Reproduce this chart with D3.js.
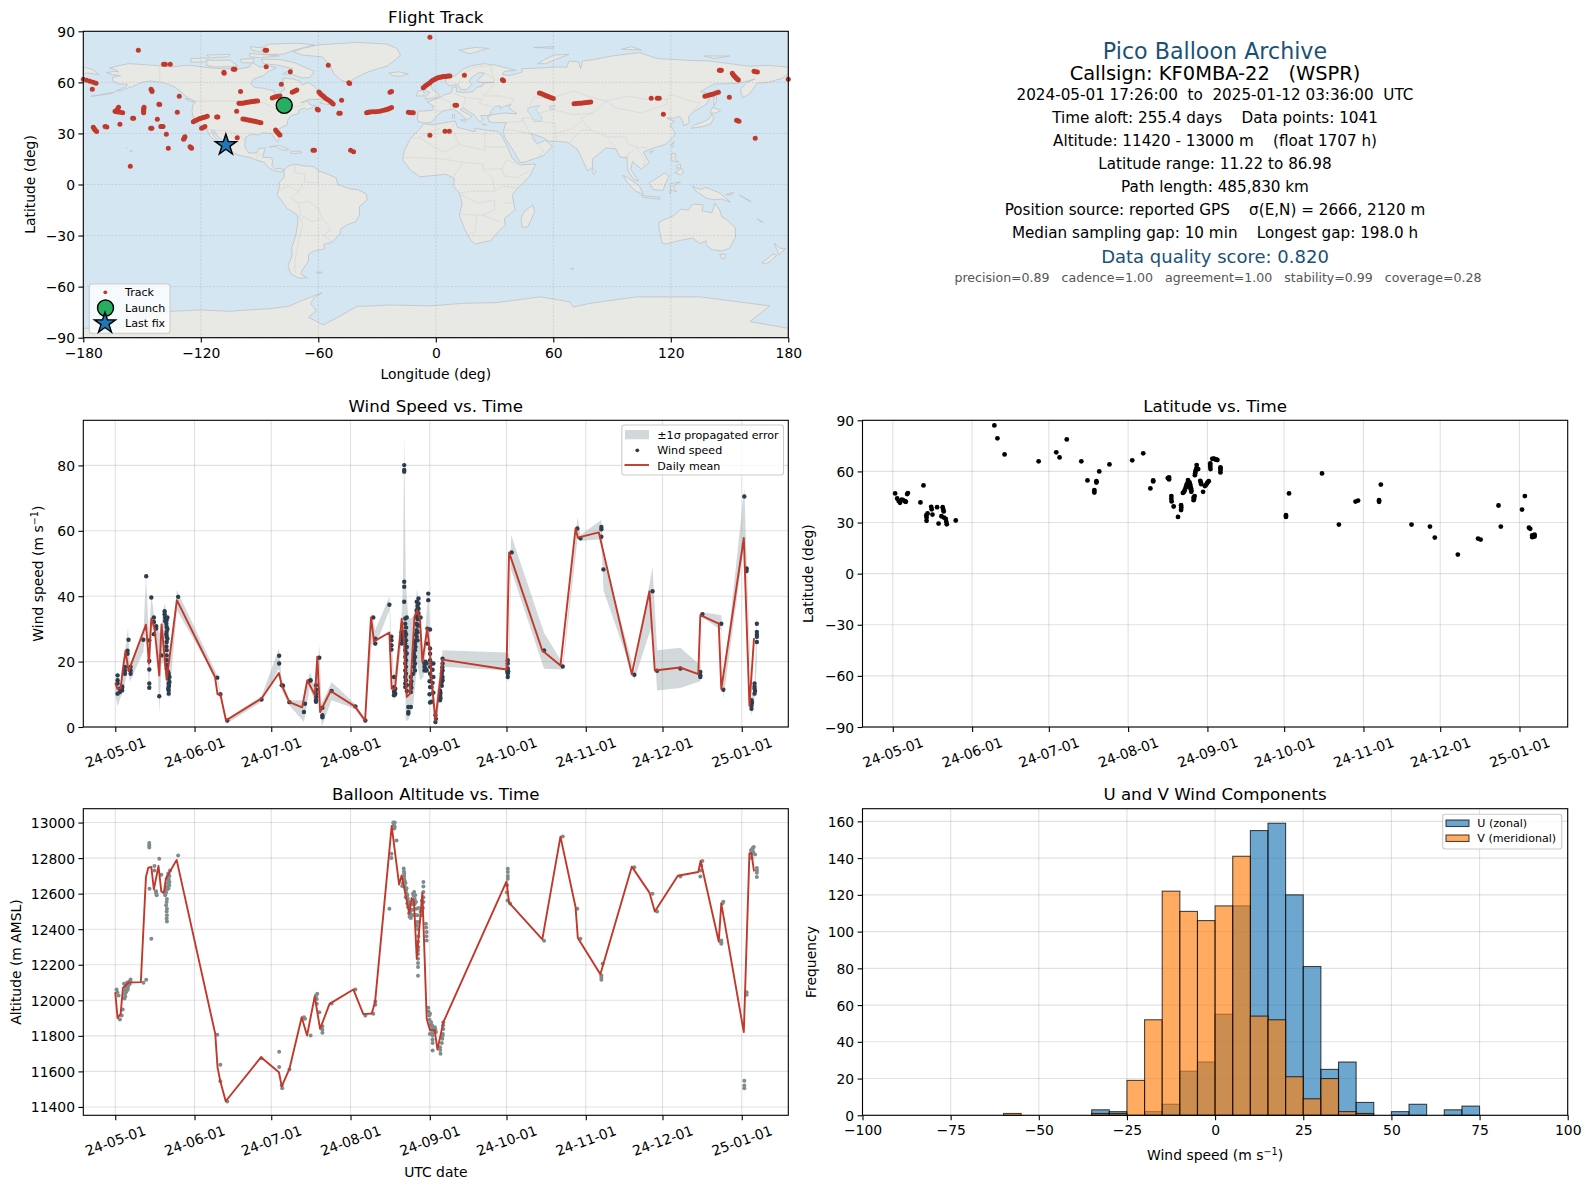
<!DOCTYPE html>
<html>
<head>
<meta charset="utf-8">
<script src="https://cdn.jsdelivr.net/npm/d3@7"></script>
<style>
  body { margin: 0; background: #fff; }
  text { font-family: "DejaVu Sans", sans-serif; fill: #000; white-space: pre; }
</style>
</head>
<body>
<div id="chart"></div>
<script>
// ---- values ----

// track fixes [lon, lat]
var trackFixes = [
  [-180,61.8],[-178.3,61.2],[-176.6,60.6],[-174.9,60],[-173.5,59.5],[-175.4,55.9],[-151.9,78.8],[-139,70.6],[-138.1,70.6],[-135.6,70.6],
  [-108.2,65.9],[-108.1,65.4],[-103.4,67.7],[-102.6,67.7],[-87.1,78.8],[-86.4,78.8],[-86.6,69.2],[-74.3,66.3],[-54.9,70],[-44.4,59.8],[-44,59.4],[-78.9,58.9],
  [-145.4,55.9],[-145,55.2],[-144.9,54.6],[-99.7,54.6],[-131,51.8],[-141.4,47.1],[-141,47],[-162,45.4],[-162.6,44.2],[-163.8,43],[-163,42.7],[-162.1,42.6],[-161,42.4],[-159.9,42.2],
  [-149,45.4],[-149.1,44.6],[-149.2,43.8],[-149.2,43],[-149.2,42.2],[-132,42.4],[-101.7,43],[-154.8,38.9],[-154.3,38.9],[-142.2,38.3],[-161.3,35.4],
  [-174.9,33.6],[-174.4,32.8],[-174,32],[-173.2,31.1],[-168.9,34],[-168,33.8],[-145.6,33],[-145,33],[-140.4,34],[-140,34],[-139.3,34],[-137.6,29.5],
  [-128.1,28.1],[-128.4,27.3],[-128.8,26.6],[-136.6,21.3],[-125.5,22.2],[-125,21.8],[-124.7,21.3],[-156,10.7],
  [-123.8,36.9],[-123,37.4],[-122.1,37.9],[-121.2,38.3],[-120.4,38.7],[-119.5,39],[-118.7,39.3],[-117.7,39.7],[-116.7,40.1],[-111.9,39.7],[-111.3,39.7],
  [-119.6,33],[-118.8,33.5],[-117.9,34],
  [-100.5,47.7],[-99.7,47.7],[-98.8,47.7],[-97.9,47.9],[-97,48.1],[-96.1,48.3],[-95.3,48.5],[-94.4,48.6],[-93.6,48.7],[-92.8,48.9],[-92,49],[-91,49.1],
  [-98.5,38.5],[-97.5,38.3],[-96.6,38.1],[-95.8,37.9],[-94.9,37.7],[-94,37.5],[-93.2,37.3],[-92.3,37.1],[-91.5,36.9],[-90.4,36.6],[-89.3,36.3],
  [-83.5,50.8],[-82.5,51.2],[-81.6,51.6],[-80.6,51.8],[-79.6,52],[-73.3,54.2],[-72.5,54.7],[-71.7,55.1],[-71,55.5],
  [-59.7,54.4],[-59,53.5],[-58.3,52.6],[-57.4,51.8],[-56.6,51],[-55.8,50.3],[-54.9,49.7],[-54,48.9],[-53.2,48.1],[-52.4,47.3],[-60.5,44.2],[-60,43.8],[-48.1,49.5],[-49.5,41.8],[-48.8,41.8],
  [-22.6,54.6],[-23.4,54.2],[-35.3,42.2],[-34.4,42.4],[-33.6,42.6],[-32.4,42.7],[-31.1,42.8],[-29.8,42.9],[-28.5,43],[-27.2,43.4],[-25.9,43.8],[-25.1,44.1],[-24.3,44.4],[-23.4,44.8],[-22.6,45.2],
  [-14,42.4],[-13.2,42.3],[-12.3,42.2],[-11.5,42.2],[-81.8,32],[-81.3,31.2],[-80.8,30.5],[-80.2,29.8],[-79.6,29.1],[-101.4,27.5],[-62.7,20.1],[-62,20.1],[-43.5,20.1],[-42,19.3],
  [-6.4,56.9],[-5.5,57.7],[-4.7,58.5],[-3.8,59.2],[-3,59.8],[-2.2,60.6],[-1.3,61.4],[-.4,61.9],[.4,62.4],[1.2,62.7],[2.1,63],[3,63.2],[3.8,63.4],[4.7,63.5],[5.5,63.6],[6.4,63.7],[7.2,63.8],
  [14.6,64.2],[34,61.5],[34.6,61],[9.8,46.5],[10.6,46.5],[4.7,31.3],[6.9,31.3],[-3,29],[-3,86.5],
  [52.9,53.8],[53.8,53.4],[54.6,53],[55.5,52.6],[56.3,52.2],[57.1,51.8],[57.9,51.4],[59,50.9],[60,50.5],
  [70.6,47.5],[71.7,47.6],[72.8,47.7],[73.9,47.8],[75,47.9],[76,48],[77,48.1],[78,48.3],[79.1,48.5],
  [110,50.6],[113.1,50.6],[114.1,50.6],[116.2,41.2],
  [137.4,51.8],[138.5,52.2],[139.7,52.6],[140.7,52.9],[141.7,53.2],[143,53.7],[144.3,54.2],[149.9,51.2],[144.8,67.1],[145.3,67.1],[145.8,67.1],
  [151.4,65.3],[151.9,64.5],[152.4,63.8],[152.9,63.2],[153.3,62.6],[153.9,62],[154.5,61.4],[162.5,66.5],[163.3,66.3],[164.2,66.1],[180,61.8],
  [153.6,37.7],[154.2,37.4],[154.8,37.1],[163.1,27.1],[-107,22.4]
];
var launchFix = [-77.4, 46.5];
var lastFix = [-107.2, 23.2];

// wind speed samples [days since 24-05-01, m/s]
var windObs = [
  [.9,15.8],[.9,14.3],[.9,13.3],[.9,10.2],[1.8,10.7],[1.8,11.7],[2.7,12.4],[2.7,11.2],[2.7,12],[3.8,18.4],[3.8,17.3],[3.8,16.3],
  [4.8,23.3],[4.8,22.4],[5.2,26.7],[6,18.4],[6,17.3],[6,16.3],[11,26.7],[12.1,46.1],[13.3,26.5],[13.3,20.2],[13.3,17.6],[13.3,13.3],[13.3,12],
  [14.1,39.6],[15.1,33.5],[15.1,32.1],[15.1,28.4],[16,30.8],[16,30.1],[17.2,9.4],[18,21.9],[19.3,35.4],[19.3,34.5],[19.5,33.5],[19.5,32.4],
  [20.1,32.7],[20.1,30.6],[20.1,29.1],[20.1,27.6],[20.1,26],[20.1,23.5],[20.1,21.9],[20.1,20.4],[20.1,17.9],[20,31.6],[20,28.4],[20,24.6],[20,19],
  [20.4,33.5],[20.4,30],[20.4,27],[20.6,17],[20.6,15.6],[20.9,16.3],[20.9,14.8],[20.9,13.3],[20.9,12.2],[20.9,11.2],[20.9,10.2],[21.2,15.3],[21.2,13.8],[21,12.7],[20.7,11.7],[24.6,39.8],[39.9,15.1],[41.1,10],[43.8,2],[57.2,8.4],
  [64.1,21.8],[64.1,19.4],[65.1,12.8],[65.6,12.6],[68.1,7.6],[73.8,4.6],[74.2,7.1],[76.4,14.3],[76.1,14.1],[78.5,12.8],[78.5,10.2],[78.5,8.2],[78.5,7.7],[78.6,9.2],[78.7,11.4],[79.8,21.2],
  [81,5.9],[81,3.6],[81,3],[84.6,11],[93.9,6.3],[97.8,2],[100.9,33.5],[101.7,27],[101.7,25.5],[107.2,37.4],[108,27.6],[108,26.5],[108,25],[108,23.7],
  [109,15.3],[109,12.2],[109,10.7],[109,9.7],[109.5,11.7],[109.5,10.2],[109.3,9.9],[109.2,11],[112,29],[112,27.6],[112,25.5],[112.2,28.3],[112.2,26.5],
  [113,44.4],[113,42.9],[113,38.3],[113,80.1],[113,78.6],[113,78.1],
  [113.4,33.2],[113.4,31.6],[113.4,29.1],[113.4,27.6],[113.4,25.5],[113.4,23.5],[113.4,21.4],[113.4,19.4],[113.4,17.3],[113.4,15.3],[113.4,13.3],[113.4,12.2],
  [113.7,30.4],[113.7,28.4],[113.7,26.5],[113.7,24.5],[113.7,22.4],[113.7,20.4],[113.7,18.4],[113.7,16.3],[113.7,14.3],
  [114,22.5],[114,24.5],[114,33.5],[114,12.8],[114,11],[114.6,6.1],[114.6,4.6],[114.6,4.1],[115.6,6.1],[115.6,10.7],[115.6,15.3],[115.6,13],[115.8,14],[115.8,12],
  [116.5,16.3],[116.8,18.4],[116.8,20.4],[116.8,22.4],[117.2,17.3],[117.2,19.4],[117.2,21.4],[117.2,23.5],[117.2,25.5],[117.4,24.5],[117.4,26.5],[117.4,28.4],
  [117.9,38.3],[117.9,35.7],[117.9,33.7],[117.9,31.6],[117.9,29.6],[117.9,27.6],[118.2,37],[118.2,33],[118.2,29],[118.2,31],[118.2,35],[118.2,26.5],
  [118.6,39.3],[118.6,37.8],[118.6,36.2],[118.6,34.7],[118.6,33],[118.6,31],[119.4,33.5],[120.9,19.4],[120.9,18.4],[120.9,17.3],[121.3,20],[121.3,18],[121.8,19.4],[121.8,17.3],
  [122.4,40.8],[122.4,38.8],[122.1,30.1],[122.1,25.5],[123.1,29.8],[123.1,24],[123.1,22.4],[123.1,20.4],[123.1,18.4],[123.1,16.3],[123.1,12.2],[123.1,7.5],[122.9,14],[122.9,10],
  [123.7,19.4],[123.7,15.3],[123.7,12.2],[123.7,7.7],[124.4,19.4],[124.4,15.3],[124.1,17.5],[124.1,13.5],[124.4,10.5],[125.2,3.6],[125.2,1.5],[125.4,2.5],
  [127,11.2],[127,9.7],[127,8.2],[127.2,10.4],[127.2,8.9],[128,20.9],[128,19.4],[128,17.3],[128,15.3],[128,14.3],[127.7,16.4],[127.7,13.8],[127.9,18.3],[127.7,12.6],
  [153.5,20.4],[153.5,19.4],[153.5,17.9],[153.5,16.3],[153.5,15.3],[153.3,16.9],[153.7,17],[155,53.4],[167.7,23.4],[175,18.5],[180.7,60.7],[181.9,57.7],
  [190.1,60.5],[190.1,58.2],[190.1,61.2],[190.9,48.2],[203,16],[210.1,41.5],[211.9,17.2],[221,17.9],[228.8,16.8],[228.8,15.8],[228.8,15.3],[229.6,34.5],
  [237,31.6],[237.8,11.4],[246,70.5],[246.9,48.5],[246.9,47.7],[248.8,8.2],[248.8,6.6],[248.8,5.6],[249,7.4],[250,13.3],[250,11.7],[250,10.2],[250,12.4],[250.2,11],
  [250.9,31.6],[250.9,29.1],[250.9,27.6],[250.9,26],[250.9,28.3]
];

// daily mean wind [day, m/s]
var windDaily = [
  [0,13.5],[.9,11.6],[2.1,11.8],[3,17.9],[4,23.3],[5.2,17.1],[12,31.3],[13.2,19.4],[14.1,33.1],[15.4,30.1],[17.2,15.8],[18.1,31.4],[20.1,14.5],[24.1,38.8],
  [39,15.3],[40,10],[41.1,10],[43.3,2],[57.2,8.7],[64,16.5],[65.1,12.8],[68.1,7.6],[73.1,6],[75.1,14.3],[78.1,9.7],[79,21.5],[80.1,4.6],[84.2,11],[93.7,6.3],[97.7,2],
  [100,33.5],[101.2,26.2],[107.2,28.9],[108.1,11.7],[109.4,11.7],[112,33.1],[112.9,26.5],[114,9.2],[115.3,10.2],[117,33.7],[118.1,35.7],[119.2,32.7],[120.1,19.9],[122,30.1],[123.1,22.4],
  [123.7,14.3],[125.2,2],[128,20.6],[153,17.6],[154,53.4],[167,23.4],[174.1,18.8],[180,60.7],[180.9,57.9],[189.1,59.5],[202,16.1],[208.9,41.5],[211,17.3],[220.9,18.2],[228,16.2],[228.8,34.2],
  [236,31.6],[237,11.6],[245.8,57.8],[248,6.5],[249.8,27.2]
];

// propagated error envelope [day, upper, lower]
var windBand = [
  [0,13.8,10.2],[.9,16.8,6.3],[2.1,13.3,9.2],[3.1,16.3,10.7],[4,24,14.3],[5,30.6,18.4],[5.7,19.4,13.8],[11,28.1,23],[12,46.4,31.6],[13.2,27.6,10.7],[14.1,40.3,31.6],[15.1,34.7,27.6],
  [16.2,31.6,27.6],[17.2,28.6,4.1],[18.1,31.6,19.4],[19.2,37.8,19.4],[20.3,34.7,10.2],[21.1,18.4,8.7],[24.1,41.8,35.7],[39.9,15.8,14.3],[41.1,10.7,9.2],[43.5,2.6,1],[57.2,9.4,7.7],
  [64,24,17.9],[65.1,14.3,11.2],[68.1,8.2,6.6],[73.8,8.2,1.5],[76.1,16.8,12.2],[78.1,12.2,7.1],[79.8,25,16.3],[80.7,7.1,0],[84.6,13.8,8.2],[93.7,7.1,5.6],[97.7,2.6,1],
  [100.3,35.2,25.5],[101.6,29.6,24.5],[107.2,39.8,35.7],[108.1,26.5,22.4],[109,15.3,7.7],[112,33.7,25.5],[112.5,45,25],[113,89.6,30],[113.6,45,2],[114.6,33,2],[116.6,33.7,7.1],[118.1,42.3,19.4],
  [119.2,33.7,14.3],[120.5,21.4,15.3],[122.4,41.8,31.6],[123.1,27.6,16.3],[123.7,19.4,8.2],[125.2,5.1,.5],[126.3,13.3,5.1],[128,23.5,18.4],[153,22.8,17.3],[153.9,22.4,13.3],[154.8,58.7,48],
  [167.7,28.8,17.8],[175,19.4,17.6],[180.8,64.3,57.7],[181.9,58.7,56.9],[190.1,63.3,57.4],[190.9,52,41.8],[203,17.3,14.5],[210.1,49,31.6],[211.9,23.5,11.2],[221,24.2,11.9],[228.8,18.9,14],
  [229.6,35.2,33.5],[237,34.2,29.6],[237.8,13.3,8.6],[246,73,56.1],[246.9,51,43.9],[248.8,8.7,3.3],[250,13.3,8.2],[250.9,34.7,19.4]
];

// latitude samples [day, deg]
var latObs = [
  [.9,47.1],[1.7,44.1],[2.3,42.7],[2.8,41.6],[3.5,43.5],[4,43.1],[4.7,42.5],[5.1,42.2],[5.6,46.7],[5.9,47.3],[10.8,41.8],[12,51.8],[13.1,34.3],[13.2,32.9],[13.2,31],[13.6,35.3],
  [15,39.2],[15.2,37.8],[15.5,34.7],[17.3,39],[17.9,29.4],[19.5,39],[19.7,37.6],[19.9,36.5],[19,33.7],[20,32.9],[20.7,32.2],[20.9,30.4],[21.1,29],[24.6,31.2],
  [39.7,87],[40.9,79.4],[43.7,70],[57,65.9],[63.9,71.2],[65.2,68.2],[68,78.8],[73.7,65.9],[76.1,54.7],[79.6,54.3],[79.6,53.5],[80.7,60],[78.8,49],[78.8,47.6],[84.7,64.1],[93.6,66.5],[97.9,70.6],
  [100.7,50],[101.8,54.7],[101.8,54.1],[107.5,56.1],[108,55.3],[108,56.5],[108.9,45.5],[108.9,44],[109,42.4],[109.8,39.4],[111.5,33.3],[112.7,40.2],[112.8,38.8],[112.7,37.3],
  [113.4,47.4],[114.1,49],[114.8,52],[115.4,54.9],[114.5,50.6],[116.2,52.5],[116.6,50],[116.7,48],[115.5,52.5],[115.9,50.6],[117.6,44.7],[117.6,43.1],[118,45.5],[113.9,48],[115.1,53],[116,53.6],[116.4,51.2],[116.7,49],[117.8,44],
  [118.1,57.8],[118.3,59.8],[118.7,61.8],[118.8,63.7],[119.4,61.4],[118.2,58.8],[118.5,60.8],[120.2,54.5],[120.6,52.5],[121.3,48],[122,51.4],[122.8,52.9],[123.5,54.3],[120.4,53.5],[122.4,52],[123.1,53.6],[124.1,64.7],[124.1,62.7],[124.2,61.4],[124.1,63.7],
  [124.9,67.4],[125.8,67.3],[126.9,66.7],[125.3,67.5],[126.3,67],[128.1,62.4],[128.1,60.8],[128.1,59.4],[128.1,61.6],[153.7,34.3],[153.7,33.3],[154.9,47.1],[167.8,58.8],[174.4,28.8],[180.9,42.3],[181.9,42.9],[190.1,43.1],[190.1,42.2],[190.8,52.3],
  [202.8,28.8],[210,27.6],[211.9,21.2],[220.9,11.2],[228.8,20.6],[229.8,20],[236.8,40],[237.7,27.6],[246,37.6],[247.1,45.5],[248.7,27],[249.2,26.3],[250,22.5],[250.9,22.9],[250,21.4],[250.9,21.8],[250.4,22.2]
];

// altitude samples [day, m]
var altObs = [
  [.5,12061],[.8,12046],[1.3,12027],[1.8,11892],[2.5,11915],[2.9,11948],[3.8,12037],[4.2,12065],[4.7,12084],[5.5,12106],[6,12117],[3.4,12093],[4.2,12045],[5,12075],[3.6,12010],[3.9,12022],[4.4,12078],[4.9,12060],[5.2,12095],[5.6,12090],[3.9,12052],[4.6,12100],[5.8,12105],[11,12099],[12.1,12115],
  [13.3,12885],[13.3,12872],[13.3,12859],[13.4,12628],[14.1,12346],[15.3,12756],[15.3,12731],[15.9,12613],[16.2,12591],[16,12602],[17.2,12797],[18,12707],
  [19.5,12591],[20.1,12553],[20.2,12515],[20.2,12478],[20.2,12444],[20.2,12570],[19.7,12620],[20.1,12640],[20.3,12684],[20.7,12713],[21.1,12647],[21.4,12731],[20.6,12660],[19.9,12605],[19.9,12535],[20.1,12500],[20.1,12460],[20.4,12625],[20.5,12695],[20.9,12680],[21.2,12665],[21.2,12700],[20.8,12630],[24.6,12814],
  [39.9,11806],[41.1,11637],[41.1,11545],[43.8,11430],[57.2,11674],[64.1,11710],[64.1,11625],[65.1,11520],[65.3,11505],[68.1,11610],[73.8,11905],[74.2,11896],[76.4,11802],
  [78.5,12027],[79,12037],[78.8,12008],[78.8,11980],[79.8,11933],[81,11854],[81,11834],[81,11817],[84.6,11982],[93.9,12061],[97.8,11914],[100.9,11924],[101.7,11993],[101.7,11975],
  [107.2,12515],[108,12825],[108,12801],[108.7,13000],[109,12985],[109.1,12966],[108.9,12992],[109.3,13000],[109.3,12975],[110,12899],[112.8,12741],[113,12713],[113,12684],[112.2,12643],[113.7,12619],[114.4,12572],[115.3,12497],[115.6,12463],
  [112.9,12725],[113,12700],[113.3,12670],[113.5,12660],[114,12600],[114.8,12540],[115,12520],[114.2,12590],[114.6,12555],[115.1,12470],[115.5,12510],[116.2,12550],[116.9,12609],[117.3,12591],[117.6,12553],[117.8,12515],[116.4,12600],[116.7,12590],[117.1,12570],[118.2,12478],[118.4,12281],[118.4,12234],[118.4,12187],[118.4,12138],[118.4,12260],[118.4,12210],[118.4,12400],[118.4,12330],[118.6,12440],[118.6,12520],
  [112.5,12660],[113.2,12640],[113.6,12580],[113.9,12630],[114.2,12545],[114.5,12525],[114.9,12490],[115.2,12540],[115.8,12480],[116,12540],[116.3,12510],[116.6,12480],[117,12540],[117.4,12480],[117.7,12440],[118,12420],[118.5,12360],[118.5,12300],[119.4,12500],[119.9,12560],
  [120.5,12666],[120.5,12640],[120.5,12609],[120.5,12580],[120.5,12553],[120.3,12520],[119.8,12478],[121.5,12431],[121.8,12384],[121.8,12337],[121.6,12410],[121.7,12360],[122.4,11958],[122.8,11915],[123,11858],[123,11811],[122.9,11890],[122.6,11935],
  [123.1,11924],[123.5,11877],[123.7,11839],[124.1,11802],[124.1,11717],[125,11849],[125.4,11821],[123.9,11860],[124.1,11780],[124.3,11840],[124.7,11830],[124.1,11760],[123.9,11815],[125.2,11835],[127,11736],[127.2,11699],[127.1,11720],[127.9,11783],[128.3,11839],[128.3,11877],[128.1,11810],[128.2,11860],[127.7,11760],[128,11800],
  [153.5,12722],[153.5,12684],[153.2,12647],[153.1,12606],[153.4,12562],[154.4,12544],[153.5,12700],[153.5,12740],[167.7,12335],[175,12921],[180.7,12515],[181.9,12346],[190.1,12140],[190.1,12115],[190.1,12128],[190.6,12206],
  [203,12748],[210.1,12600],[211.9,12499],[221,12696],[228.8,12696],[228.8,12731],[229.6,12784],[229.1,12760],[237,12337],[237,12318],[237,12327],[237.4,12544],[237.8,12555],
  [246,11548],[246,11520],[246,11505],[246.9,12046],[246.9,12031],[248.6,12844],[248.9,12825],[249.3,12857],[249.5,12835],[250.2,12820],[248.9,12800],[249.1,12850],[249.7,12862],[250.9,12745],[250.9,12718],[250.9,12694],[250.9,12730]
];

// daily mean altitude [day, m]
var altDaily = [
  [0,12046],[.9,11900],[2.1,11924],[3,12069],[5.2,12100],[10,12102],[12,12694],[12.9,12746],[14.1,12750],[15.1,12624],[16.9,12756],[18,12613],[19,12604],[19.8,12684],[21.1,12716],[24,12790],
  [39.1,11811],[40,11623],[41.1,11543],[43.2,11432],[57,11680],[64,11595],[65.1,11516],[68.1,11614],[72.9,11905],[75,11802],[78,12022],[80.1,11839],[83.8,11980],[93.1,12061],[97,11922],[100.3,11926],[101.6,11990],
  [108.1,12981],[111,12651],[112,12703],[115,12487],[115.9,12576],[116.8,12557],[117.9,12234],[120.1,12606],[121.8,11896],[123.1,11830],[124.9,11832],[126,11723],[128.3,11877],
  [153,12669],[154,12549],[167,12343],[174.1,12921],[180,12525],[180.9,12350],[189.7,12146],[202,12752],[208.9,12606],[211,12500],[220,12701],[228,12722],[228.9,12784],[236,12331],[237,12544],[245.8,11821],[248,12827],[248.8,12827],[249.8,12726]
];

// histogram, 5 m/s bins from -100
var binEdges = d3.range(-100, 100, 5);
var uCounts = [0,0,0,0,0,0,0,0,0,0,0,0,0,3,2,0,2,6,24,29,55,114,155,159,120,81,25,29,7,0,2,6,0,3,5,0,0,0,0,0];
var vCounts = [0,0,0,0,0,0,0,0,1,0,0,0,0,1,1,19,52,122,111,106,114,141,54,52,21,9,20,2,1,0,0,0,0,0,0,0,0,0,0,0];

var dateTicks = ["2024-05-01","2024-06-01","2024-07-01","2024-08-01","2024-09-01","2024-10-01","2024-11-01","2024-12-01","2025-01-01"];
var latTicks = [-90,-60,-30,0,30,60,90];
var lonTicks = [-180,-120,-60,0,60,120,180];
var windTicks = [0,20,40,60,80];
var altTicks = [11400,11600,11800,12000,12200,12400,12600,12800,13000];
var freqTicks = [0,20,40,60,80,100,120,140,160];
var speedTicks = [-100,-75,-50,-25,0,25,50,75,100];

var summaryLines = [
  "2024-05-01 17:26:00  to  2025-01-12 03:36:00  UTC",
  "Time aloft: 255.4 days    Data points: 1041",
  "Altitude: 11420 - 13000 m    (float 1707 h)",
  "Latitude range: 11.22 to 86.98",
  "Path length: 485,830 km",
  "Position source: reported GPS    \u03c3(E,N) = 2666, 2120 m",
  "Median sampling gap: 10 min    Longest gap: 198.0 h"
];

// land outlines, lon/lat, very rough
var landShapes = [
  // north america
  [[-168,65.7],[-164,66.5],[-162,66.2],[-164,67.5],[-166.5,68.4],[-163,69.5],[-157,71],[-150,70.5],[-141,69.7],[-135,69],[-128,70],[-124,69.8],[-115,68.5],[-108,68],[-100,68],[-95,69],[-94,72],[-90,69],[-85,69.5],[-81.5,68.5],[-86,66],[-88,64],[-93,62],[-94.5,59],[-92.5,57],[-88,56.5],[-82.5,55],[-82,52.5],[-79.5,51.5],[-79,54.5],[-77,56],[-78,58.5],[-78,62.5],[-73,62],[-70,61],[-68,58.5],[-65,60],[-62,57.5],[-60,55],[-56,52.5],[-59,50],[-65,50],[-69,48],[-65,49],[-64.5,47],[-61,46],[-66,44],[-67,45],[-70,43.5],[-70,41.7],[-74,40.5],[-75.5,38],[-76,35],[-78,34],[-81,32],[-81.5,30],[-80,26.5],[-81,25],[-82.5,27.5],[-84,30],[-89,30.3],[-90,29],[-94,29.5],[-97,28],[-97.5,25],[-97.5,22],[-95.5,18.5],[-91.5,18.5],[-90.5,21],[-87,21.5],[-88,18],[-88.5,16],[-84,15.8],[-83.3,14],[-83.7,11],[-82,9],[-79.5,9.5],[-77.5,8.7],[-78,7.5],[-80.5,7.5],[-83,8.3],[-85.5,10],[-87.5,13],[-92,14.5],[-95,16],[-100,17],[-104,19],[-105.5,20.5],[-105.5,22.5],[-109,26],[-112,29],[-113,31.5],[-114.8,31.5],[-113,28],[-110,24],[-109.5,23],[-112,25],[-115,28],[-117,32.5],[-120.5,34.5],[-122.5,37.5],[-124,40],[-124.5,43],[-124,47],[-122.5,48.5],[-125,50],[-128,52],[-130,54.5],[-133,57],[-136,58.5],[-140,60],[-146,60.8],[-150,60],[-152,59],[-155,57.5],[-160,55.5],[-163.5,54.8],[-158,57.5],[-157.5,59],[-162,59],[-165,61],[-165,63],[-161,64],[-165,64.5]],
  [[-80,73.5],[-72,71.5],[-67,69],[-62,66.5],[-64,63],[-68,62.5],[-73,64.5],[-78,65],[-73,68],[-80,70],[-88,71],[-89,73.5]],
  [[-117,73],[-105,73],[-101,69.5],[-113,69],[-117,70]],
  [[-125,74],[-116,74.3],[-118,72],[-125,71.8]],
  [[-90,80],[-85,82.5],[-70,83],[-62,82],[-72,79],[-78,76.5],[-88,76.5]],
  [[-95,77],[-80,75.5],[-90,74.5],[-95,75]],
  [[-117,76],[-105,76.5],[-106,75],[-115,74.5]],
  [[-95,81],[-87,80],[-90,78],[-94,79]],
  [[-100,73.5],[-93,74],[-93,71.5],[-99,71.5]],
  [[-59,47.7],[-53,46.7],[-53,48.5],[-56,51.5]],
  [[-128,50.5],[-125,50],[-123.5,48.5],[-125.5,48.8]],
  [[-85,22],[-80,23],[-75,20.5],[-78,20],[-82,22.5]],
  [[-74,19.5],[-69,19.5],[-68.5,18.5],[-74,18.2]],
  [[-155.9,19.2],[-155,19.7],[-155.9,20.2]],
  [[-158.2,21.4],[-157.7,21.5],[-157.9,21.2]],
  [[-172,52.5],[-176,51.8],[-168,53],[-164,54.2],[-168,53.5]],
  // greenland, iceland
  [[-73,78],[-68,80],[-60,82],[-40,83.5],[-25,82.5],[-20,80],[-18,76],[-22,72],[-25,69.5],[-35,66],[-42,62],[-44,60],[-48,61],[-52,65],[-54,70],[-58,75],[-68,76]],
  [[-24,65.5],[-19,66.2],[-14,65],[-18,63.5],[-22,64]],
  // south america
  [[-77.5,8.5],[-75,11],[-72,12],[-68,11],[-62,10.5],[-60,8],[-55,6],[-51,4],[-50,0],[-44,-2.5],[-40,-3],[-35.5,-5.5],[-35,-9],[-39,-13],[-39,-18],[-41,-22],[-45,-23.5],[-48.5,-26],[-49,-29],[-53,-34],[-57,-35],[-57,-38],[-62,-39],[-65,-41],[-65,-45],[-68,-50],[-69,-52.5],[-65.5,-54.8],[-70,-55],[-74,-52.5],[-75.5,-48],[-73.5,-42],[-73.5,-37],[-71.5,-30],[-70.5,-23],[-70.5,-18],[-76,-14],[-81,-6],[-80,-2.5],[-80,1],[-77.5,4]],
  [[-61,-51.5],[-58,-51.5],[-59,-52.3]],
  // africa
  [[-6,35.8],[-2,35],[10,37.3],[11,33.5],[15,32.5],[20,31],[20,33],[25,32],[32,31.2],[34,28],[37,21],[39,15.5],[43,11.5],[51,12],[48,5],[42,-2],[39,-6],[40.5,-15],[35,-20],[35.5,-24],[32.5,-27],[28,-33],[20,-35],[18,-33],[15,-27],[12,-18],[13.5,-11],[12,-5],[9,-1],[9.5,3.5],[5,6],[-4,5],[-8,4.5],[-13,8.5],[-17,14.5],[-16,20],[-13,27],[-9.5,31]],
  [[49.5,-12],[50.5,-16],[47,-25],[44,-25],[43.5,-20],[45,-16]],
  // eurasia
  [[-9,37],[-9.5,39],[-9,43],[-2,43.5],[-1,46],[-4.5,48.5],[2,51],[4,52.5],[8,54],[8.5,57],[10.5,57.5],[10.5,54.5],[14,54],[19,54.5],[21,57],[24,58],[24,59.5],[30,60],[23,60],[21,61],[25,65.3],[22,65.8],[18,62.5],[17,60.5],[18.5,59],[16,56],[13,55.5],[11,59],[7,58],[5,60],[5,62],[10,64],[14,68],[19,70],[25,71],[31,70],[41,67],[35,66.5],[34,64.5],[38,64],[44,66],[44,68],[54,68.5],[60,69],[67,69],[68,72.5],[73,72],[74,68],[75,72.5],[81,73.5],[90,75.5],[104,77.5],[113,74],[128,73],[140,72.5],[150,71],[160,69.5],[170,70],[180,69],[180,65],[177,62.5],[170,60],[164,59.5],[162,56],[160,53],[156.7,51],[155.5,56],[159,60],[163,62],[155,59.5],[142,59],[135,54.5],[141,53],[138,47],[132,43],[129,40],[129.5,36],[126.5,34.5],[126,37.5],[124.5,40],[121.5,39],[118,39],[122,37],[119.5,35],[122,31],[121.5,28],[117,23.5],[110,21],[106,19],[109,13],[105,9],[100.5,13.5],[99.5,9],[103.5,2],[101,3],[98,8.5],[97.5,16],[94,16],[92,21],[87,21.5],[80,15],[80,10],[77.5,8],[73,19],[72,21],[67,25],[57,25.5],[56,27],[51,29],[48.5,30],[51,25],[52,24],[56,26],[59.5,22.5],[55,17],[45,13],[43,13],[39,21],[35,28],[34.5,31.5],[36,36.5],[30,36.3],[27,37],[26.5,40],[29,41],[35,42],[41.5,41.5],[38,44.5],[37,45.3],[38.5,47],[35,46],[33,44.5],[33,46],[30.5,46],[28,43],[28,41],[26,40.5],[23,40.5],[24,38],[22.5,36.5],[19.5,41],[14,45],[12.5,44],[18.5,40],[16,38],[12,42],[9,44.5],[3,43],[0,39.5],[-2,36.7],[-5.5,36]],
  [[-180,69],[-175,67.5],[-172,64.5],[-178,65.5],[-180,65]],
  [[-5.5,50],[1.5,51.5],[1.5,53],[-2,56],[-2,57.5],[-4,58.6],[-6,57.5],[-5,55],[-3,54],[-5,52]],
  [[-10,52],[-6,52],[-6,55],[-9,55]],
  [[52,71],[56,71],[68,76.5],[60,76],[55,73]],
  [[12,79],[20,80.5],[27,80],[17,76.7]],
  [[50,80.5],[60,81],[60,80]],
  [[95,79.5],[105,79],[100,81]],
  [[137,75.5],[150,75.5],[142,74]],
  [[130.5,33],[136,34],[140.5,35.5],[142,39.5],[141,41.5],[139.5,38.5],[136,36.5],[132,35]],
  [[140,42],[141.5,45.5],[145.5,43.5],[143,42]],
  [[142,46],[143.5,49],[143,54],[142,53.5],[142,48]],
  [[120,23],[121.5,25.2],[121,22]],
  [[109,19],[111,20],[110,18.2]],
  [[120.5,18.5],[122.5,18],[122,15],[124,13],[120.5,14]],
  [[122,7],[125.5,9.5],[126.5,7],[125,5.7]],
  [[123,11],[125,12],[125,10],[123,9.5]],
  [[80,9.5],[82,7.5],[80.5,6],[79.8,8]],
  [[109,1],[114,4.5],[117,7],[119,5],[117.5,1],[116,-3.5],[111,-3]],
  [[95.5,5.5],[98,4],[104,-1],[106,-5.8],[102,-4],[98,1]],
  [[105,-6.5],[114.5,-7.5],[114.5,-8.7],[106,-7.5]],
  [[119.5,-5.5],[120,.5],[125,1.5],[121,-1],[123,-4.5],[120.5,-3]],
  [[131,-1],[135,-3],[138,-1.7],[145,-5],[148,-8],[150.5,-10.5],[146,-8.5],[142,-9],[138,-8],[133,-4]],
  [[114,-22],[114,-26],[115.5,-34.5],[118,-35],[124,-33],[131,-31.5],[135,-34.7],[138,-33],[138,-35.5],[141,-38.3],[146,-39],[150,-37.5],[153,-31],[153,-25.5],[149,-21],[146,-19],[145,-15],[142.5,-11],[141,-16.5],[136,-15.5],[136.5,-12],[131,-11.5],[129,-15],[125,-14.5],[122,-18],[117,-20.5]],
  [[145,-41],[148,-41],[147.5,-43.5],[146,-43.5]],
  [[172.7,-34.5],[176,-37.5],[178.5,-37.7],[175,-41.5],[174.5,-39]],
  [[172.5,-40.7],[174,-41.7],[171,-45],[168.5,-46.6],[166.5,-46],[171,-42]],
  [[148,-6],[152,-4.5],[151,-6]],
  [[155,-6],[160,-9.5],[161,-10],[156,-7]],
  [[164,-20],[167,-22],[166,-22]],
  [[69,-49],[70.5,-49.5],[69.5,-49.8]],
  [[12.5,38],[15.5,38],[15,36.7]],
  [[8.5,41],[9.7,41],[9.5,39],[8.5,39]],
  [[23.5,35.5],[26,35.2],[24,35]],
  // antarctica
  [[-180,-84.5],[-160,-84],[-150,-80],[-145,-75.5],[-135,-74.5],[-120,-73.7],[-105,-74.5],[-100,-74],[-85,-73],[-75,-71.5],[-68,-68],[-58,-63.5],[-62,-66.5],[-64,-70],[-61,-74],[-65,-78],[-57.5,-82.5],[-50,-78],[-40.4,-71.7],[-23.4,-70.8],[-3,-71.3],[14,-69.8],[31,-69.4],[53.2,-66],[68.5,-69],[70.2,-72],[78.7,-69.8],[102.6,-66],[134.9,-66],[170.6,-71.3],[160.4,-80.5],[180,-84.5],[180,-90],[-180,-90]]
];
var inlandWater = [
  [[47,45],[53,46.5],[51,44],[54,40],[54,37],[50,37],[49,40],[47,43]],
  [[58,46],[61,46.5],[60,44],[58.5,44]]
];
var borderLines = [
  [[-123,49],[-95,49],[-88,48],[-82.5,45],[-79,43],[-75,45],[-70,46],[-67,47]],[[-141,69.7],[-141,60],[-135,58.5]],[[-117,32.5],[-108,31.5],[-106,31.7],[-101,29.5],[-97.5,26]],[[-92,14.5],[-91,17.5],[-89,17.8]],
  [[-72,12],[-72,7],[-67,6],[-67,1.5]],[[-60,8],[-60,1],[-67,1.5],[-70,-4],[-74,-8],[-70,-11],[-65,-10],[-60,-14],[-58,-20],[-55,-24],[-54,-27],[-57.5,-30],[-53,-33.5]],[[-70,-18],[-68,-23],[-70,-33],[-72,-45],[-72,-52]],[[-70,-11],[-69,-18],[-63,-22],[-58,-20]],[[-80,-3.5],[-75,-1],[-70,-4]],
  [[-13,27],[-8.5,27.5],[-1,32],[2,33]],[[-8.5,27.5],[4,19],[12,23.5],[25,20],[25,32]],[[25,22],[36.5,22]],[[-17,16],[-5,15.5],[4,15],[14,13],[24,12],[24,9],[34,9],[36,14.5],[43,11.5]],[[10,37],[8,33],[12,23.5]],[[14,13],[9,4.5]],[[12,-5],[18,-4],[30,-4],[34,-1],[41,-2]],[[34,9],[35,5],[41,4],[48,8]],[[30,-4],[29,4],[24,9]],[[12,-17.5],[24,-18],[33,-22]],[[21,-18],[20,-28],[17,-29]],[[24,-18],[30,-15],[30,-9],[22,-11],[13,-6]],[[35,-11],[40.5,-10.5]],
  [[28,70],[30,60],[28,56],[24,52],[33,52],[40,50],[38,47]],[[-2,43.5],[3,43]],[[2,51],[8,48],[7,44]],[[8,54],[15,51],[14,45]],[[15,51],[24,50],[22,48],[29,45.5]],[[12,59],[14,65],[20,69],[29,70]],[[24,66],[30,62]],
  [[48,46.5],[50,51],[60,51],[70,55],[80,51],[87,49]],[[87,49],[98,52],[107,50],[118,50],[120,53],[127,50],[135,48],[131,43]],[[87,49],[92,45],[105,42],[112,45],[118,47],[118,50]],[[80,42],[74,39],[79,32],[88,28],[97,28],[98,24],[102,22],[108,21.5]],[[53,42],[60,44],[70,41],[80,42],[87,49]],
  [[44,39],[48,39],[54,37],[61,36],[61,30],[62,25]],[[36,36.5],[44,37],[44,39],[48,30],[39,32],[35,32]],[[61,30],[70,33],[74,37]],[[68,24],[74,32],[79,32]],[[88,26],[92,22]],[[98,10],[98,18],[101,20]],[[48,28],[55,20],[52,16]],[[102,22],[107,15],[106,11]]
];

// ---- drawing ----

var width = 1589, height = 1189;
var red = "#c0392b", navy = "#2c3e50", slate = "#7f8c8d", titleBlue = "#1a5276";
var leftCol = [83.3, 788.3], rightCol = [862.5, 1567.7];
var row1 = [31.3, 337.7], row2 = [420.3, 727], row3 = [808.7, 1115.3];

var svg = d3.select("#chart").append("svg")
  .attr("width", width).attr("height", height)
  .attr("viewBox", "0 0 " + width + " " + height);

var day0 = Date.UTC(2024, 4, 1);
var toDate = function(d) { return new Date(day0 + d * 864e5); };
var dateFmt = d3.utcFormat("%y-%m-%d");

function timeScale(col, first, last) {
  return d3.scaleUtc().domain([toDate(first), toDate(last)]).range(col);
}

function frame(col, row, title) {
  var g = svg.append("g");
  g.append("text").attr("x", (col[0] + col[1]) / 2).attr("y", row[0] - 8.3)
    .attr("text-anchor", "middle").style("font-size", "16.67px").text(title);
  return g;
}

function gridLines(g, col, row, xs, ys, x, y) {
  g.append("g").selectAll("line").data(xs).join("line")
    .attr("x1", x).attr("x2", x).attr("y1", row[0]).attr("y2", row[1])
    .attr("stroke", "#b0b0b0").attr("stroke-opacity", 0.38).attr("stroke-width", 1.1);
  g.append("g").selectAll("line").data(ys).join("line")
    .attr("y1", y).attr("y2", y).attr("x1", col[0]).attr("x2", col[1])
    .attr("stroke", "#b0b0b0").attr("stroke-opacity", 0.38).attr("stroke-width", 1.1);
}

function axes(g, col, row, x, y, xTicks, yTicks, xFmt, rotated) {
  var ax = g.append("g").attr("transform", "translate(0," + row[1] + ")")
    .call(d3.axisBottom(x).tickValues(xTicks).tickFormat(xFmt).tickSize(4.9).tickSizeOuter(0));
  var ay = g.append("g").attr("transform", "translate(" + col[0] + ",0)")
    .call(d3.axisLeft(y).tickValues(yTicks).tickFormat(d3.format("d")).tickSize(4.9).tickSizeOuter(0));
  [ax, ay].forEach(function(a) {
    a.select(".domain").remove();
    a.selectAll("line").attr("stroke", "#000").attr("stroke-width", 1.1);
    a.selectAll("text").style("font-size", "13.9px").style("font-family", '"DejaVu Sans"');
    a.attr("font-family", null);
  });
  ay.selectAll("text").attr("x", -8.3).attr("dy", "0.36em");
  ax.selectAll("text").attr("y", 9).attr("dy", "0.78em");
  if (rotated) {
    ax.selectAll("text").attr("text-anchor", "middle").attr("x", 0).attr("y", 0).attr("dy", 0)
      .attr("transform", "translate(1.4,30) rotate(-20)");
  }
  g.append("rect").attr("x", col[0]).attr("y", row[0])
    .attr("width", col[1] - col[0]).attr("height", row[1] - row[0])
    .attr("fill", "none").attr("stroke", "#000").attr("stroke-width", 1.1);
}

function yLabel(g, x, row, label, sup) {
  var t = g.append("text").attr("transform", "translate(" + x + "," + (row[0] + row[1]) / 2 + ") rotate(-90)")
    .attr("text-anchor", "middle").style("font-size", "13.9px").text(label);
  if (sup) t.append("tspan").attr("dy", -5).style("font-size", "9.7px").text(sup);
  return t;
}

function xLabel(g, y, col, label, sup) {
  var t = g.append("text").attr("x", (col[0] + col[1]) / 2).attr("y", y)
    .attr("text-anchor", "middle").style("font-size", "13.9px").text(label);
  if (sup) {
    t.append("tspan").attr("dy", -5).style("font-size", "9.7px").text(sup);
    t.append("tspan").attr("dy", 5).text(")");
  }
}

function legendBox(g, x, y, w, h) {
  g.append("rect").attr("x", x).attr("y", y).attr("width", w).attr("height", h).attr("rx", 2.5)
    .attr("fill", "#fff").attr("fill-opacity", 0.8).attr("stroke", "#ccc").attr("stroke-width", 1.1);
}

function legendText(g, x, y, label) {
  g.append("text").attr("x", x).attr("y", y).attr("dy", "0.36em").style("font-size", "11.1px").text(label);
}

var dateValues = dateTicks.map(function(d) { return new Date(d + "T00:00:00Z"); });

// flight track
(function() {
  var g = frame(leftCol, row1, "Flight Track");
  var x = d3.scaleLinear().domain([-180, 180]).range(leftCol);
  var y = d3.scaleLinear().domain([-90, 90]).range([row1[1], row1[0]]);
  var line = d3.line().x(function(d) { return x(d[0]); }).y(function(d) { return y(d[1]); });

  g.append("rect").attr("x", leftCol[0]).attr("y", row1[0])
    .attr("width", leftCol[1] - leftCol[0]).attr("height", row1[1] - row1[0]).attr("fill", "#d4e6f1");
  g.append("g").selectAll("path").data(landShapes).join("path")
    .attr("d", function(d) { return line(d) + "Z"; })
    .attr("fill", "#e8e8e4").attr("stroke", "#bcc3c6").attr("stroke-width", 0.8);
  g.append("g").selectAll("path").data(inlandWater).join("path")
    .attr("d", function(d) { return line(d) + "Z"; })
    .attr("fill", "#d4e6f1").attr("stroke", "#bcc3c6").attr("stroke-width", 0.6);
  g.append("g").selectAll("path").data(borderLines).join("path")
    .attr("d", line).attr("fill", "none").attr("stroke", "#d6d8d6").attr("stroke-width", 0.7);

  g.append("g").selectAll("line").data(lonTicks).join("line")
    .attr("x1", x).attr("x2", x).attr("y1", row1[0]).attr("y2", row1[1])
    .attr("stroke", "#888").attr("stroke-opacity", 0.3).attr("stroke-width", 0.8).attr("stroke-dasharray", "2,1.5");
  g.append("g").selectAll("line").data(latTicks).join("line")
    .attr("y1", y).attr("y2", y).attr("x1", leftCol[0]).attr("x2", leftCol[1])
    .attr("stroke", "#888").attr("stroke-opacity", 0.3).attr("stroke-width", 0.8).attr("stroke-dasharray", "2,1.5");

  g.append("g").selectAll("circle").data(trackFixes).join("circle")
    .attr("cx", function(d) { return x(d[0]); }).attr("cy", function(d) { return y(d[1]); })
    .attr("r", 2.5).attr("fill", red);

  var star = d3.symbol().type(d3.symbolStar).size(138);
  g.append("circle").attr("cx", x(launchFix[0])).attr("cy", y(launchFix[1])).attr("r", 8)
    .attr("fill", "#27ae60").attr("stroke", "#000").attr("stroke-width", 1.4);
  g.append("path").attr("d", star).attr("transform", "translate(" + x(lastFix[0]) + "," + y(lastFix[1]) + ")")
    .attr("fill", "#1f77b4").attr("stroke", "#000").attr("stroke-width", 1.4);

  legendBox(g, 89.3, 284, 80.7, 49.3);
  g.append("circle").attr("cx", 105.3).attr("cy", 292.3).attr("r", 1.9).attr("fill", red);
  g.append("circle").attr("cx", 105.5).attr("cy", 308).attr("r", 8)
    .attr("fill", "#27ae60").attr("stroke", "#000").attr("stroke-width", 1.4);
  g.append("path").attr("d", star).attr("transform", "translate(105,323.3)")
    .attr("fill", "#1f77b4").attr("stroke", "#000").attr("stroke-width", 1.4);
  legendText(g, 125, 292.3, "Track");
  legendText(g, 125, 308, "Launch");
  legendText(g, 125, 323, "Last fix");

  axes(g, leftCol, row1, x, y, lonTicks, latTicks, d3.format("d"), false);
  yLabel(g, 34.5, row1, "Latitude (deg)");
  xLabel(g, 379, leftCol, "Longitude (deg)");
})();

// summary block
(function() {
  var cx = 1215;
  var g = svg.append("g").attr("text-anchor", "middle");
  g.append("text").attr("x", cx).attr("y", 58.8).style("font-size", "22.2px").style("fill", titleBlue).text("Pico Balloon Archive");
  g.append("text").attr("x", cx).attr("y", 79.8).style("font-size", "19.44px").text("Callsign: KF0MBA-22   (WSPR)");
  var ys = [100, 123, 146, 169, 192, 215, 238];
  g.selectAll("text.line").data(summaryLines).join("text").attr("class", "line")
    .attr("x", cx).attr("y", function(d, i) { return ys[i]; })
    .style("font-size", "15.2px").text(function(d) { return d; });
  g.append("text").attr("x", cx).attr("y", 263).style("font-size", "18px").style("fill", titleBlue).text("Data quality score: 0.820");
  g.append("text").attr("x", cx + 3).attr("y", 282).style("font-size", "12.57px").style("fill", "#555")
    .text("precision=0.89   cadence=1.00   agreement=1.00   stability=0.99   coverage=0.28");
})();

// wind speed
(function() {
  var g = frame(leftCol, row2, "Wind Speed vs. Time");
  var x = timeScale(leftCol, -12.5, 263.2);
  var y = d3.scaleLinear().domain([0, 93.8]).range([row2[1], row2[0]]);
  gridLines(g, leftCol, row2, dateValues, windTicks, x, y);

  var band = d3.area()
    .x(function(d) { return x(toDate(d[0])); })
    .y0(function(d) { return y(d[2]); }).y1(function(d) { return y(d[1]); });
  g.append("path").datum(windBand).attr("d", band).attr("fill", "#95a5a6").attr("fill-opacity", 0.42);
  g.append("g").selectAll("circle").data(windObs).join("circle")
    .attr("cx", function(d) { return x(toDate(d[0])); }).attr("cy", function(d) { return y(d[1]); })
    .attr("r", 2.2).attr("fill", navy);
  var line = d3.line().x(function(d) { return x(toDate(d[0])); }).y(function(d) { return y(d[1]); });
  g.append("path").datum(windDaily).attr("d", line).attr("fill", "none").attr("stroke", red).attr("stroke-width", 1.9).attr("stroke-linejoin", "round");

  legendBox(g, 621.8, 425, 161.7, 50);
  g.append("rect").attr("x", 625).attr("y", 430).attr("width", 24).attr("height", 9.3)
    .attr("fill", "#95a5a6").attr("fill-opacity", 0.42);
  g.append("circle").attr("cx", 637.3).attr("cy", 450.3).attr("r", 1.9).attr("fill", navy);
  g.append("line").attr("x1", 624.5).attr("x2", 649).attr("y1", 465).attr("y2", 465).attr("stroke", red).attr("stroke-width", 1.9);
  legendText(g, 657.3, 435, "\u00b11\u03c3 propagated error");
  legendText(g, 657.3, 450.3, "Wind speed");
  legendText(g, 657.3, 466, "Daily mean");

  axes(g, leftCol, row2, x, y, dateValues, windTicks, dateFmt, true);
  var t = yLabel(g, 42.5, row2, "Wind speed (m s", "\u22121");
  t.append("tspan").attr("dy", 5).text(")");
})();

// latitude vs time
(function() {
  var g = frame(rightCol, row2, "Latitude vs. Time");
  var x = timeScale(rightCol, -11.85, 263.85);
  var y = d3.scaleLinear().domain([-90, 90]).range([row2[1], row2[0]]);
  gridLines(g, rightCol, row2, dateValues, latTicks, x, y);
  g.append("g").selectAll("circle").data(latObs).join("circle")
    .attr("cx", function(d) { return x(toDate(d[0])); }).attr("cy", function(d) { return y(d[1]); })
    .attr("r", 2.4).attr("fill", "#000");
  axes(g, rightCol, row2, x, y, dateValues, latTicks, dateFmt, true);
  yLabel(g, 812.7, row2, "Latitude (deg)");
})();

// altitude
(function() {
  var g = frame(leftCol, row3, "Balloon Altitude vs. Time");
  var x = timeScale(leftCol, -12.5, 263.2);
  var y = d3.scaleLinear().domain([11353, 13078]).range([row3[1], row3[0]]);
  gridLines(g, leftCol, row3, dateValues, altTicks, x, y);
  g.append("g").selectAll("circle").data(altObs).join("circle")
    .attr("cx", function(d) { return x(toDate(d[0])); }).attr("cy", function(d) { return y(d[1]); })
    .attr("r", 2).attr("fill", slate);
  var line = d3.line().x(function(d) { return x(toDate(d[0])); }).y(function(d) { return y(d[1]); });
  g.append("path").datum(altDaily).attr("d", line).attr("fill", "none").attr("stroke", red).attr("stroke-width", 1.9).attr("stroke-linejoin", "round");
  axes(g, leftCol, row3, x, y, dateValues, altTicks, dateFmt, true);
  yLabel(g, 20.5, row3, "Altitude (m AMSL)");
  xLabel(g, 1177, leftCol, "UTC date");
})();

// wind component histogram
(function() {
  var g = frame(rightCol, row3, "U and V Wind Components");
  var x = d3.scaleLinear().domain([-100, 100]).range(rightCol);
  var y = d3.scaleLinear().domain([0, 166.9]).range([row3[1], row3[0]]);
  gridLines(g, rightCol, row3, speedTicks, freqTicks, x, y);

  [[uCounts, "#1f77b4"], [vCounts, "#ff7f0e"]].forEach(function(s) {
    g.append("g").selectAll("rect").data(s[0]).join("rect")
      .attr("x", function(d, i) { return x(binEdges[i]); })
      .attr("width", function(d, i) { return x(binEdges[i] + 5) - x(binEdges[i]); })
      .attr("y", function(d) { return y(d); })
      .attr("height", function(d) { return y(0) - y(d); })
      .attr("fill", s[1]).attr("fill-opacity", 0.65)
      .attr("stroke", "#000").attr("stroke-opacity", 0.7).attr("stroke-width", 1.1);
  });

  legendBox(g, 1442.7, 814.3, 119, 34.7);
  g.append("rect").attr("x", 1446).attr("y", 820).attr("width", 23).attr("height", 6.5)
    .attr("fill", "#1f77b4").attr("fill-opacity", 0.65).attr("stroke", "#000").attr("stroke-opacity", 0.7).attr("stroke-width", 1.1);
  g.append("rect").attr("x", 1446).attr("y", 835).attr("width", 23).attr("height", 6.5)
    .attr("fill", "#ff7f0e").attr("fill-opacity", 0.65).attr("stroke", "#000").attr("stroke-opacity", 0.7).attr("stroke-width", 1.1);
  legendText(g, 1477.3, 823.5, "U (zonal)");
  legendText(g, 1477.3, 838.5, "V (meridional)");

  axes(g, rightCol, row3, x, y, speedTicks, freqTicks, d3.format("d"), false);
  yLabel(g, 815.7, row3, "Frequency");
  xLabel(g, 1159.5, rightCol, "Wind speed (m s", "\u22121");
})();
</script>
</body>
</html>
